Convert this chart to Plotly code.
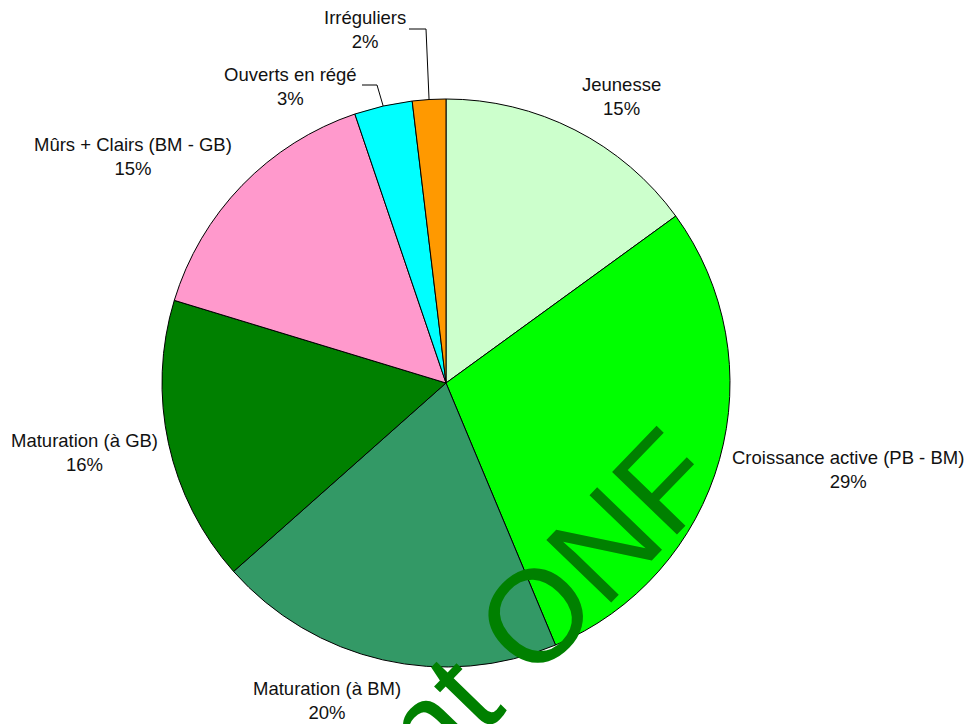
import math
import plotly.graph_objects as go

categories = ["Jeunesse", "Croissance active (PB - BM)", "Maturation (à BM)",
              "Maturation (à GB)", "Mûrs + Clairs (BM - GB)", "Ouverts en régé", "Irréguliers"]
values = [15.0, 28.7, 19.75, 16.25, 15.1, 3.3, 1.9]
colors = ["#CCFFCC", "#00FF00", "#339966", "#008000", "#FF99CC", "#00FFFF", "#FF9900"]

W, H = 976, 724
OFF = 8  # page body margin
CX, CY, R = 446 - OFF, 383 - OFF, 284


def px(x, y):
    return (x - OFF) / W, 1 - (y - OFF) / H


fig = go.Figure(go.Pie(
    labels=categories, values=values, sort=False, direction="clockwise", rotation=0,
    marker=dict(colors=colors, line=dict(color="black", width=1)),
    textinfo="none", hoverinfo="label+percent", showlegend=False,
    domain=dict(x=[(CX - R) / W, (CX + R) / W], y=[1 - (CY + R) / H, 1 - (CY - R) / H]),
))

# label text positions (screen pixel centers)
label_pos = {
    "Jeunesse": (621, 96),
    "Croissance active (PB - BM)": (848, 469),
    "Maturation (à BM)": (327, 700),
    "Maturation (à GB)": (84, 453),
    "Mûrs + Clairs (BM - GB)": (133, 156),
    "Ouverts en régé": (290, 86),
    "Irréguliers": (365, 30),
}
total = sum(values)
font = dict(family="Liberation Sans, Arial, sans-serif", size=18.5, color="#111111")
for c, v in zip(categories, values):
    x, y = px(*label_pos[c])
    fig.add_annotation(x=x, y=y, xref="paper", yref="paper", xanchor="center", yanchor="middle",
                       text=f"{c}<br>{round(v / total * 100)}%", showarrow=False,
                       font=font, align="center")

# leader lines for small slices
elbows = {"Ouverts en régé": [(362, 85), (377, 85)], "Irréguliers": [(409, 29), (426, 29)]}
cum = 0
for c, v in zip(categories, values):
    mid = (cum + v / 2) / total * 2 * math.pi
    cum += v
    if c in elbows:
        ex = CX + OFF + R * math.sin(mid)
        ey = CY + OFF - R * math.cos(mid)
        pts = elbows[c] + [(ex, ey)]
        path = "M " + " L ".join("{},{}".format(*px(a, b)) for a, b in pts)
        fig.add_shape(type="path", path=path, xref="paper", yref="paper",
                      line=dict(color="black", width=1))

# watermark
wx, wy = px(376, 780)
fig.add_annotation(x=wx, y=wy, xref="paper", yref="paper", xanchor="center", yanchor="middle",
                   text="Document ONF", showarrow=False, textangle=-46,
                   font=dict(family="Liberation Sans, Arial, sans-serif", size=131, color="#008000"))

fig.update_layout(width=W, height=H, margin=dict(l=0, r=0, t=0, b=0),
                  paper_bgcolor="white", plot_bgcolor="white")
fig.write_html("out.html")
